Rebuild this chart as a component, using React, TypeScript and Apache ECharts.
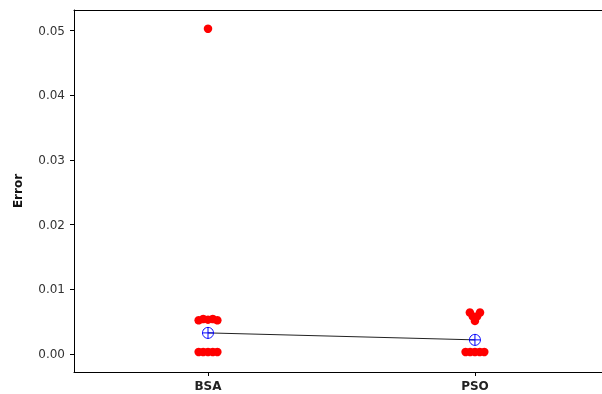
import React, { useEffect, useRef } from "react";
import * as echarts from "echarts";

const categories = ["BSA", "PSO"];
const yTicks = [0, 0.01, 0.02, 0.03, 0.04, 0.05];
// [x position (category index + jitter), error value]
const bsaPoints: number[][] = [
  [1.0, 0.0503],
  [0.965, 0.0052],
  [0.982, 0.0054],
  [1.0, 0.0053],
  [1.018, 0.0054],
  [1.035, 0.0052],
  [0.965, 0.0003],
  [0.982, 0.0003],
  [1.0, 0.0003],
  [1.018, 0.0003],
  [1.035, 0.0003],
];
const psoPoints: number[][] = [
  [1.981, 0.0064],
  [2.019, 0.0064],
  [1.992, 0.0058],
  [2.008, 0.0058],
  [2.0, 0.0051],
  [1.965, 0.0003],
  [1.982, 0.0003],
  [2.0, 0.0003],
  [2.018, 0.0003],
  [2.035, 0.0003],
];
const means: number[][] = [
  [1, 0.00325],
  [2, 0.00217],
];

export default function App() {
  const ref = useRef<HTMLDivElement>(null);
  useEffect(() => {
    if (!ref.current) return;
    const chart = echarts.init(ref.current, undefined, { renderer: "svg" });
    const font = "DejaVu Sans";
    const axisLine = { show: true, onZero: false, lineStyle: { color: "#000", width: 1 } };
    chart.setOption({
      animation: false,
      grid: {
        left: 74,
        top: 10,
        right: 0,
        bottom: 22,
        show: false,
      },
      xAxis: [
        {
          type: "value",
          min: 0.498,
          max: 2.476,
          splitLine: { show: false },
          axisLine,
          axisTick: {
            show: true,
            length: 4,
            customValues: [1, 2],
            lineStyle: { color: "#000" },
          },
          axisLabel: {
            customValues: [1, 2],
            formatter: (v: number) => categories[Math.round(v) - 1] ?? "",
            fontFamily: font,
            fontSize: 12,
            fontWeight: "bold",
            color: "#222",
            margin: 8,
          },
        },
        {
          type: "value",
          position: "top",
          min: 0.498,
          max: 2.476,
          splitLine: { show: false },
          axisLine,
          axisTick: { show: false },
          axisLabel: { show: false },
        },
      ],
      yAxis: {
        type: "value",
        min: -0.0028,
        max: 0.0532,
        name: "Error",
        nameLocation: "middle",
        nameGap: 50,
        nameTextStyle: {
          fontFamily: font,
          fontSize: 12,
          fontWeight: "bold",
          color: "#111",
        },
        splitLine: { show: false },
        axisLine,
        axisTick: {
          show: true,
          length: 4,
          customValues: yTicks,
          lineStyle: { color: "#000" },
        },
        axisLabel: {
          customValues: yTicks,
          formatter: (v: number) => v.toFixed(2),
          fontFamily: font,
          fontSize: 12,
          color: "#333",
          margin: 9,
        },
      },
      series: [
        {
          type: "scatter",
          data: bsaPoints,
          symbolSize: 8.5,
          itemStyle: { color: "#ff0000", opacity: 1 },
        },
        {
          type: "scatter",
          data: psoPoints,
          symbolSize: 8.5,
          itemStyle: { color: "#ff0000", opacity: 1 },
        },
        {
          type: "line",
          data: means,
          symbol: "none",
          lineStyle: { color: "#222", width: 1 },
          z: 3,
        },
        {
          type: "scatter",
          data: means,
          symbol: "path://M10,0A10,10,0,1,1,9.999,0ZM0,10L20,10M10,0L10,20",
          symbolSize: 11,
          itemStyle: {
            color: "rgba(255,255,255,0)",
            borderColor: "#0000ff",
            borderWidth: 1,
            opacity: 1,
          },
          z: 4,
        },
      ],
    });
    return () => chart.dispose();
  }, []);
  return (
    <div
      ref={ref}
      style={{ position: "fixed", left: 0, top: 0, width: 602, height: 394 }}
    />
  );
}
